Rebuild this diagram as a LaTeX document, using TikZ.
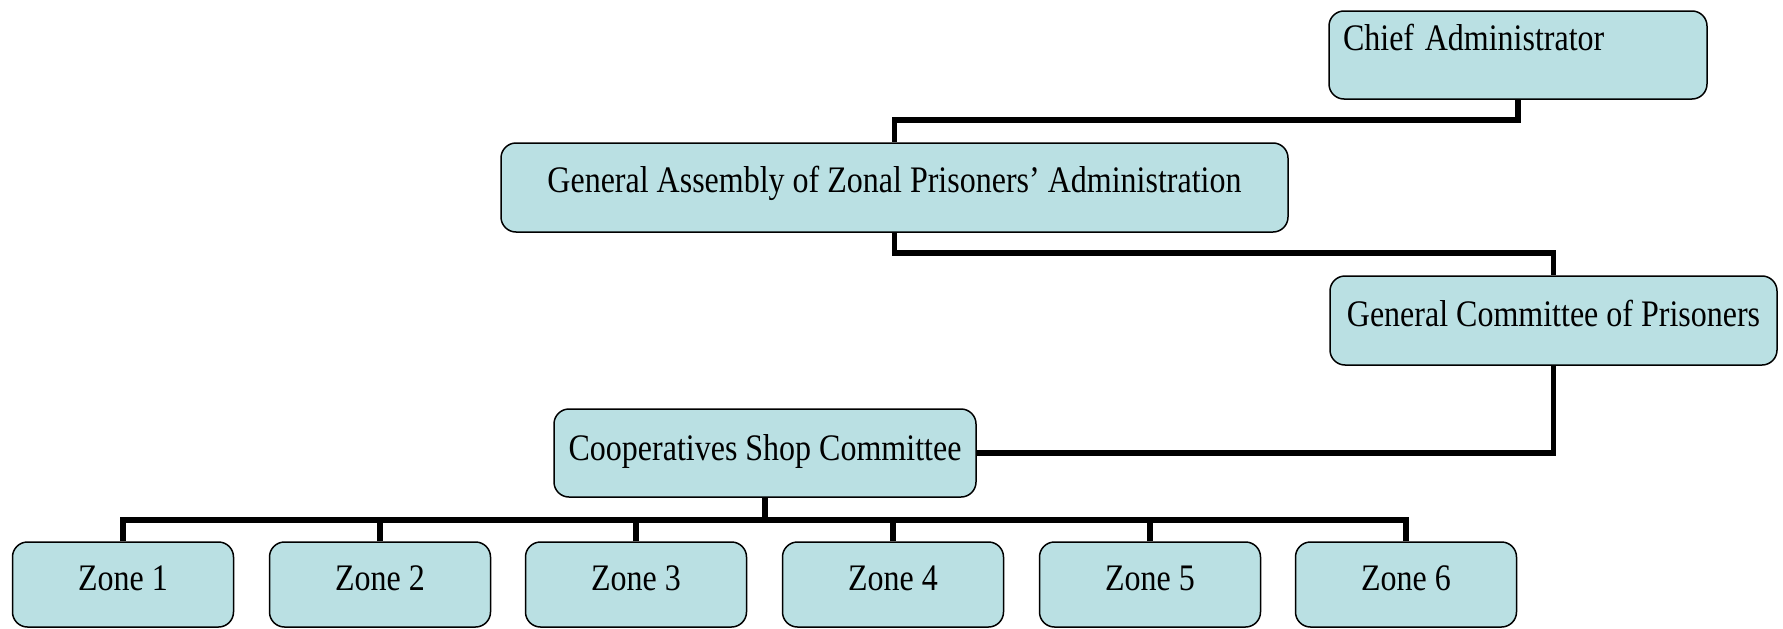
\documentclass[tikz,border=0pt]{standalone}
\usepackage{fontspec}
\setmainfont{Liberation Serif}
\definecolor{boxfill}{RGB}{186,224,227}
\newcommand{\talltext}[1]{\scalebox{1}[1.17]{#1}}
\begin{document}
\begin{tikzpicture}[x=1pt,y=-1pt,
  box/.style={draw=black, line width=1.5pt, fill=boxfill, rounded corners=15pt,
    inner sep=0pt, font=\fontsize{32}{38}\selectfont},
  zonebox/.style={box, minimum width=221pt, minimum height=85pt, text height=48pt, text depth=37pt},
  link/.style={line width=5.5pt}]
\useasboundingbox (0,0) rectangle (1783,629);
\node[box, minimum width=378pt, minimum height=88pt, text height=39pt, text depth=49pt,
  text width=350pt, align=left] (chief) at (1518,55) {\talltext{Chief Administrator}};
\node[box, minimum width=787pt, minimum height=89pt, text height=49pt, text depth=40pt]
  (ga) at (894.5,187.5) {\talltext{General Assembly of Zonal Prisoners’ Administration}};
\node[box, minimum width=447pt, minimum height=89pt, text height=50pt, text depth=39pt]
  (gc) at (1553.5,320.5) {\talltext{General Committee of Prisoners}};
\node[box, minimum width=422pt, minimum height=88pt, text height=51pt, text depth=37pt]
  (csc) at (765,453) {\talltext{Cooperatives Shop Committee}};
\node[zonebox] (z1) at (123,584.5) {\talltext{Zone 1}};
\node[zonebox] (z2) at (380,584.5) {\talltext{Zone 2}};
\node[zonebox] (z3) at (636,584.5) {\talltext{Zone 3}};
\node[zonebox] (z4) at (893,584.5) {\talltext{Zone 4}};
\node[zonebox] (z5) at (1150,584.5) {\talltext{Zone 5}};
\node[zonebox] (z6) at (1406,584.5) {\talltext{Zone 6}};
\draw[link] (chief.south) -- (chief.south |- 0,120) -| (ga.north);
\draw[link] (ga.south) -- (ga.south |- 0,253) -| (gc.north);
\draw[link] (gc.south) |- (csc.east);
\draw[link] (csc.south) -- (csc.south |- 0,520);
\draw[link] (z1.north) -- (z1.north |- 0,520) -- (z6.north |- 0,520) -- (z6.north);
\draw[link] (z2.north) -- (z2.north |- 0,520);
\draw[link] (z3.north) -- (z3.north |- 0,520);
\draw[link] (z4.north) -- (z4.north |- 0,520);
\draw[link] (z5.north) -- (z5.north |- 0,520);
\end{tikzpicture}
\end{document}
